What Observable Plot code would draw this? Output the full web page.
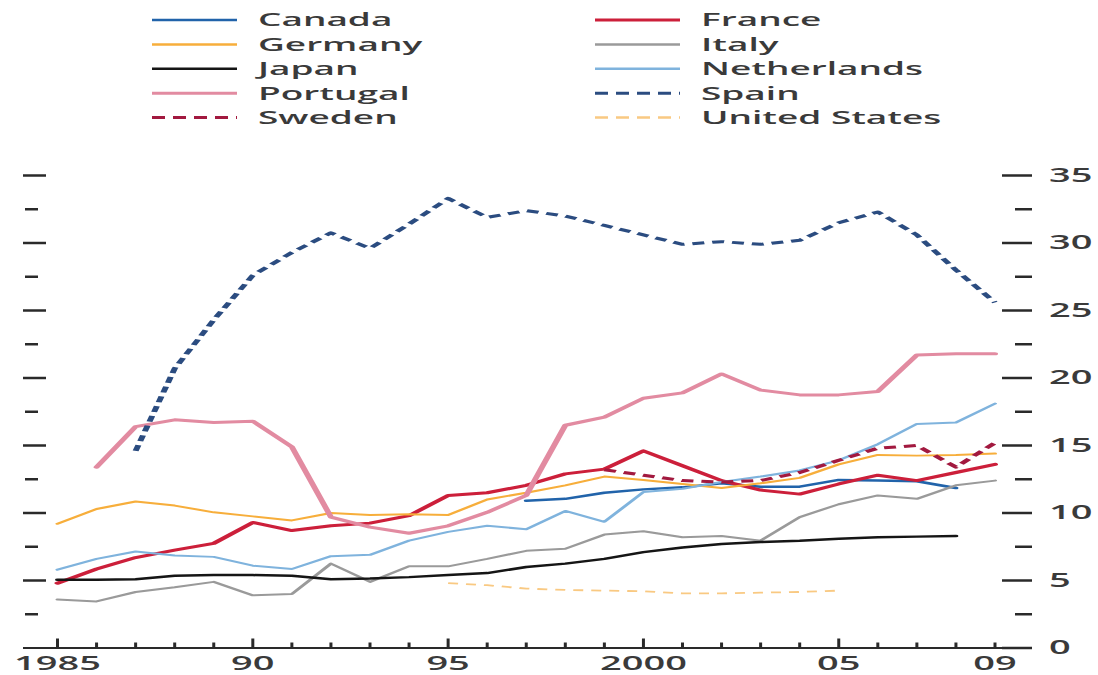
<!DOCTYPE html>
<html>
<head>
<meta charset="utf-8">
<script src="https://cdn.jsdelivr.net/npm/d3@7"></script>
<script src="https://cdn.jsdelivr.net/npm/@observablehq/plot@0.6"></script>
<style>
  html, body { margin: 0; padding: 0; background: #fff; }
  #outer { width: 1098px; height: 675px; overflow: hidden; }
  #wrap { width: 549px; transform: scaleX(2); transform-origin: 0 0; font-family: "Open Sans", sans-serif; }
  #wrap svg { display: block; }
</style>
</head>
<body>
<div id="outer"><div id="wrap"><div id="legend"></div><div id="chart"></div></div></div>
<script>
// ---------- data ----------
const years = [1985, 1986, 1987, 1988, 1989, 1990, 1991, 1992, 1993, 1994, 1995, 1996, 1997,
               1998, 1999, 2000, 2001, 2002, 2003, 2004, 2005, 2006, 2007, 2008, 2009];

const canada      = [null, null, null, null, null, null, null, null, null, null, null, null,
                     10.9, 11.05, 11.5, 11.75, 11.9, 12.2, 11.95, 11.95, 12.45, 12.4, 12.35, 11.85, null];
const france      = [4.8, 5.85, 6.7, 7.25, 7.75, 9.3, 8.7, 9.05, 9.25, 9.8, 11.3, 11.5, 12.05,
                     12.9, 13.25, 14.6, 13.5, 12.4, 11.7, 11.4, 12.15, 12.8, 12.4, 13.0, 13.6];
const germany     = [9.2, 10.3, 10.85, 10.55, 10.05, 9.75, 9.45, 10.0, 9.85, 9.9, 9.85, 11.0, 11.5,
                     12.05, 12.7, 12.45, 12.15, 11.85, 12.2, 12.6, 13.6, 14.3, 14.25, 14.3, 14.4];
const italy       = [3.6, 3.45, 4.15, 4.5, 4.9, 3.9, 4.0, 6.25, 4.9, 6.05, 6.05, 6.6, 7.2,
                     7.35, 8.4, 8.65, 8.2, 8.3, 7.95, 9.7, 10.65, 11.3, 11.05, 12.05, 12.4];
const japan       = [5.05, 5.05, 5.1, 5.35, 5.4, 5.4, 5.35, 5.1, 5.15, 5.25, 5.4, 5.55, 6.0,
                     6.25, 6.6, 7.1, 7.45, 7.7, 7.85, 7.95, 8.1, 8.2, 8.25, 8.3, null];
const netherlands = [5.8, 6.6, 7.15, 6.85, 6.75, 6.1, 5.85, 6.8, 6.9, 7.95, 8.6, 9.05, 8.8,
                     10.15, 9.35, 11.55, 11.8, 12.3, 12.7, 13.15, 13.9, 15.1, 16.6, 16.7, 18.1];
const portugal    = [null, 13.4, 16.4, 16.9, 16.7, 16.8, 14.9, 9.7, 8.95, 8.5, 9.05, 10.05, 11.3,
                     16.5, 17.1, 18.5, 18.9, 20.3, 19.1, 18.75, 18.75, 19.0, 21.7, 21.8, 21.8];
const spain       = [null, null, 14.6, 20.7, 24.3, 27.6, 29.3, 30.75, 29.6, 31.4, 33.3, 31.9, 32.4,
                     32.0, 31.3, 30.6, 29.9, 30.1, 29.9, 30.2, 31.5, 32.3, 30.6, 28.0, 25.6];
const sweden      = [null, null, null, null, null, null, null, null, null, null, null, null, null,
                     null, 13.2, 12.8, 12.4, 12.3, 12.4, 13.0, 13.9, 14.8, 15.0, 13.4, 15.2];
const unitedStates= [null, null, null, null, null, null, null, null, null, null, 4.8, 4.65, 4.4,
                     4.3, 4.25, 4.2, 4.05, 4.05, 4.1, 4.15, 4.25, null, null, null, null];

const countries = ["Canada", "France", "Germany", "Italy", "Japan", "Netherlands",
                   "Portugal", "Spain", "Sweden", "United States"];
const seriesValues = [canada, france, germany, italy, japan, netherlands,
                      portugal, spain, sweden, unitedStates];

const yMajorTicks = [0, 5, 10, 15, 20, 25, 30, 35];
const yMinorTicks = [2.5, 7.5, 12.5, 17.5, 22.5, 27.5, 32.5];
const xLabelYears = [1985, 1990, 1995, 2000, 2005, 2009];
const xLabelTexts = ["1985", "90", "95", "2000", "05", "09"];
const xMajorYears = [1985, 1990, 1995, 2000, 2005];

// ---------- styles ----------
const styles = {
  "Canada":        {stroke: "#2163aa", width: 2.5, dash: null},
  "France":        {stroke: "#cc1f3a", width: 3,   dash: null},
  "Germany":       {stroke: "#f7ae3b", width: 2,   dash: null},
  "Italy":         {stroke: "#9a9a9a", width: 2,   dash: null},
  "Japan":         {stroke: "#151515", width: 2.5, dash: null},
  "Netherlands":   {stroke: "#7fb3dd", width: 2,   dash: null},
  "Portugal":      {stroke: "#e28ba1", width: 3,   dash: null},
  "Spain":         {stroke: "#2b4c80", width: 3,   dash: "6,4"},
  "Sweden":        {stroke: "#a2193f", width: 3,   dash: "6,4"},
  "United States": {stroke: "#f9c982", width: 1.8, dash: "5,4"}
};

// tidy rows
const rows = [];
countries.forEach((c, ci) => {
  seriesValues[ci].forEach((v, yi) => {
    if (v != null) rows.push({country: c, year: years[yi], value: v});
  });
});

const ink = "#2a2a2a";
const textInk = "#3a3a3a";

const lineMarks = countries.map(c => Plot.line(rows.filter(d => d.country === c), {
  x: "year", y: "value",
  stroke: styles[c].stroke,
  strokeWidth: styles[c].width,
  strokeDasharray: styles[c].dash,
  strokeLinecap: styles[c].dash ? "butt" : "round",
  strokeLinejoin: "round"
}));

const chart = Plot.plot({
  width: 549,
  height: 535,
  marginLeft: 11.5,
  marginRight: 34,
  marginTop: 35,
  marginBottom: 27.5,
  x: {domain: [1985, 2009], range: [28.25, 497], label: null},
  y: {domain: [0, 35], label: null},
  style: {fontFamily: "Open Sans, sans-serif", fontSize: "19px", fontWeight: 600, color: textInk, background: "#fff"},
  marks: [
    // left ticks
    Plot.axisY(yMajorTicks.filter(d => d > 0), {anchor: "left", tickSize: 11.5, dx: 11.5, fill: "none", stroke: ink, strokeWidth: 2.5, label: null}),
    Plot.axisY(yMinorTicks, {anchor: "left", tickSize: 6.5, dx: 7.5, fill: "none", stroke: ink, strokeWidth: 2.5, label: null}),
    // right ticks
    Plot.axisY(yMajorTicks, {anchor: "right", tickSize: 15, dx: -15, fill: "none", stroke: ink, strokeWidth: 2.5, label: null}),
    Plot.axisY(yMinorTicks, {anchor: "right", tickSize: 8.5, dx: -8.5, fill: "none", stroke: ink, strokeWidth: 2.5, label: null}),
    // right labels
    Plot.axisY(yMajorTicks, {anchor: "right", tickSize: 0, tickPadding: 9, stroke: "none", fill: textInk, label: null}),
    // x ticks (upward from the baseline)
    Plot.axisX(xMajorYears, {anchor: "bottom", tickSize: 9, dy: -9, fill: "none", stroke: ink, strokeWidth: 1.5, label: null}),
    Plot.axisX(years.filter(y => !xMajorYears.includes(y)), {anchor: "bottom", tickSize: 5, dy: -5, fill: "none", stroke: ink, strokeWidth: 1.5, label: null}),
    // x labels
    Plot.axisX(xLabelYears, {anchor: "bottom", tickSize: 0, tickPadding: 8.5, stroke: "none", fill: textInk, label: null,
      tickFormat: d => xLabelTexts[xLabelYears.indexOf(d)]}),
    // baseline
    Plot.ruleY([0], {stroke: ink, strokeWidth: 2}),
    ...lineMarks
  ]
});
document.getElementById("chart").appendChild(chart);

// ---------- legend ----------
const lg = d3.select("#legend").append("svg")
  .attr("width", 549).attr("height", 140)
  .style("font-family", "Open Sans, sans-serif");
const swatchX = [[76, 118.5], [297.5, 340]];
const labelX = [129, 350.5];
countries.forEach((c, i) => {
  const col = i % 2, row = Math.floor(i / 2);
  const y = 20 + row * 24.4;
  const s = styles[c];
  lg.append("line")
    .attr("x1", swatchX[col][0]).attr("x2", swatchX[col][1])
    .attr("y1", y).attr("y2", y)
    .attr("stroke", s.stroke)
    .attr("stroke-width", Math.max(2.5, s.width))
    .attr("stroke-dasharray", s.dash ? "6.5,4" : null);
  lg.append("text")
    .attr("x", labelX[col]).attr("y", y).attr("dy", "0.35em")
    .attr("font-size", 18.5).attr("font-weight", 600)
    .attr("fill", textInk)
    .text(c);
});
</script>
</body>
</html>
